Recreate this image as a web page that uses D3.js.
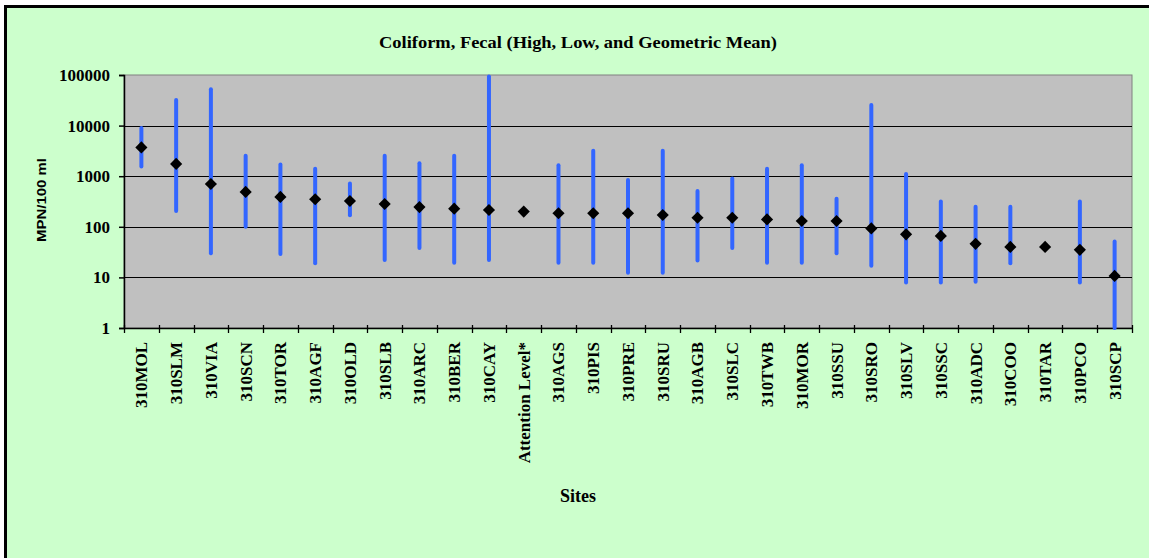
<!DOCTYPE html>
<html>
<head>
<meta charset="utf-8">
<script src="https://cdn.jsdelivr.net/npm/d3@7/dist/d3.min.js"></script>
<style>
  html, body { margin: 0; padding: 0; background: #ffffff; }
  svg { display: block; }
</style>
</head>
<body>
<svg id="chart" width="1149" height="558"></svg>
<script>
// ---- data ----
const sites = ["310MOL","310SLM","310VIA","310SCN","310TOR","310AGF","310OLD","310SLB","310ARC","310BER","310CAY","Attention Level*","310AGS","310PIS","310PRE","310SRU","310AGB","310SLC","310TWB","310MOR","310SSU","310SRO","310SLV","310SSC","310ADC","310COO","310TAR","310PCO","310SCP"];
const highValues = [9000,32000,52000,2550,1700,1400,720,2550,1800,2550,93000,null,1650,3200,840,3200,510,900,1400,1650,360,25500,1100,315,250,250,null,315,51];
const lowValues  = [1550,205,30,100,29,19,170,22,38,19.5,22,null,19.5,19.5,12.4,12.4,21.5,38,19.5,19.5,30,17,7.9,7.9,8.2,19,null,7.9,1];
const geoMeans   = [3700,1750,700,490,390,350,323,282,245,228,215,200,185,185,185,171,151,151,140,130,130,93,71,66,46,40,40,35,10.7];
const yTicks = [1,10,100,1000,10000,100000];
const titleText = "Coliform, Fecal (High, Low, and Geometric Mean)";
const yLabel = "MPN/100 ml";
const xLabel = "Sites";

// ---- layout ----
const svg = d3.select("#chart");
const plot = { left: 124, right: 1132, top: 75, bottom: 328 };

// outer frame
svg.append("rect").attr("x", 0).attr("y", 0).attr("width", 1149).attr("height", 558).attr("fill", "#ffffff");
svg.append("rect").attr("x", 5.5).attr("y", 6.5).attr("width", 1200).attr("height", 600)
  .attr("fill", "#ccffcc").attr("stroke", "#000").attr("stroke-width", 3);

const x = d3.scaleBand().domain(sites).range([plot.left, plot.right]).padding(0);
const y = d3.scaleLog().domain([1, 100000]).range([plot.bottom, plot.top]);

// plot background
svg.append("rect").attr("x", plot.left).attr("y", plot.top)
  .attr("width", plot.right - plot.left).attr("height", plot.bottom - plot.top)
  .attr("fill", "#c0c0c0").attr("stroke", "#808080").attr("stroke-width", 1);

// gridlines
svg.append("g").selectAll("line").data(yTicks.filter(t => t > 1 && t < 100000)).join("line")
  .attr("x1", plot.left).attr("x2", plot.right)
  .attr("y1", d => Math.round(y(d)) + 0.5).attr("y2", d => Math.round(y(d)) + 0.5)
  .attr("stroke", "#000").attr("stroke-width", 1.2);

// y axis
const yAxis = d3.axisLeft(y).tickValues(yTicks).tickFormat(d3.format("d")).tickSize(5).tickPadding(9);
const gy = svg.append("g").attr("transform", `translate(${plot.left},0)`).call(yAxis);
gy.select(".domain").attr("stroke", "#000").attr("stroke-width", 1.5);
gy.selectAll(".tick line").attr("stroke", "#000").attr("stroke-width", 1.5);
gy.selectAll(".tick text").attr("font-family", "'Liberation Serif', 'Times New Roman', serif")
  .attr("font-weight", "bold").attr("font-size", 17).attr("fill", "#000");

// x axis
const xAxis = d3.axisBottom(x).tickSize(0).tickPadding(0);
const gx = svg.append("g").attr("transform", `translate(0,${plot.bottom})`).call(xAxis);
gx.select(".domain").attr("stroke", "#000").attr("stroke-width", 1.5);
gx.selectAll(".tick text")
  .attr("font-family", "'Liberation Serif', 'Times New Roman', serif")
  .attr("font-weight", "bold").attr("font-size", 17).attr("fill", "#000")
  .attr("text-anchor", "end")
  .attr("transform", "rotate(-90)")
  .attr("x", -14).attr("y", 0).attr("dy", "0.35em");
// category boundary ticks
const bounds = sites.map(s => x(s)).concat([plot.right]);
svg.append("g").selectAll("line").data(bounds).join("line")
  .attr("x1", d => Math.round(d) + 0.5).attr("x2", d => Math.round(d) + 0.5)
  .attr("y1", plot.bottom - 3).attr("y2", plot.bottom + 5)
  .attr("stroke", "#000").attr("stroke-width", 1.3);

// high-low bars
const cx = s => x(s) + x.bandwidth() / 2;
const rows = sites.map((s, i) => ({ s, hi: highValues[i], lo: lowValues[i], gm: geoMeans[i] }));
svg.append("g").selectAll("line").data(rows.filter(r => r.hi != null)).join("line")
  .attr("x1", r => cx(r.s)).attr("x2", r => cx(r.s))
  .attr("y1", r => y(r.hi)).attr("y2", r => y(r.lo))
  .attr("stroke", "#3366ff").attr("stroke-width", 4).attr("stroke-linecap", "round");

// geometric mean diamonds
const diamond = d3.symbol().type(d3.symbolSquare).size(74);
svg.append("g").selectAll("path").data(rows).join("path")
  .attr("d", diamond)
  .attr("transform", r => `translate(${cx(r.s)},${y(r.gm)}) rotate(45)`)
  .attr("fill", "#000");

// title
svg.append("text").attr("x", 578).attr("y", 48).attr("text-anchor", "middle")
  .attr("font-family", "'Liberation Serif', 'Times New Roman', serif")
  .attr("font-weight", "bold").attr("font-size", 17)
  .attr("textLength", 398).attr("lengthAdjust", "spacingAndGlyphs")
  .text(titleText);

// y label
svg.append("text").attr("transform", "translate(46,200) rotate(-90)").attr("text-anchor", "middle")
  .attr("font-family", "'Liberation Sans', Arial, sans-serif")
  .attr("font-weight", "bold").attr("font-size", 12)
  .attr("textLength", 84).attr("lengthAdjust", "spacingAndGlyphs")
  .text(yLabel);

// x label
svg.append("text").attr("x", 578).attr("y", 502).attr("text-anchor", "middle")
  .attr("font-family", "'Liberation Serif', 'Times New Roman', serif")
  .attr("font-weight", "bold").attr("font-size", 18)
  .text(xLabel);
</script>
</body>
</html>
